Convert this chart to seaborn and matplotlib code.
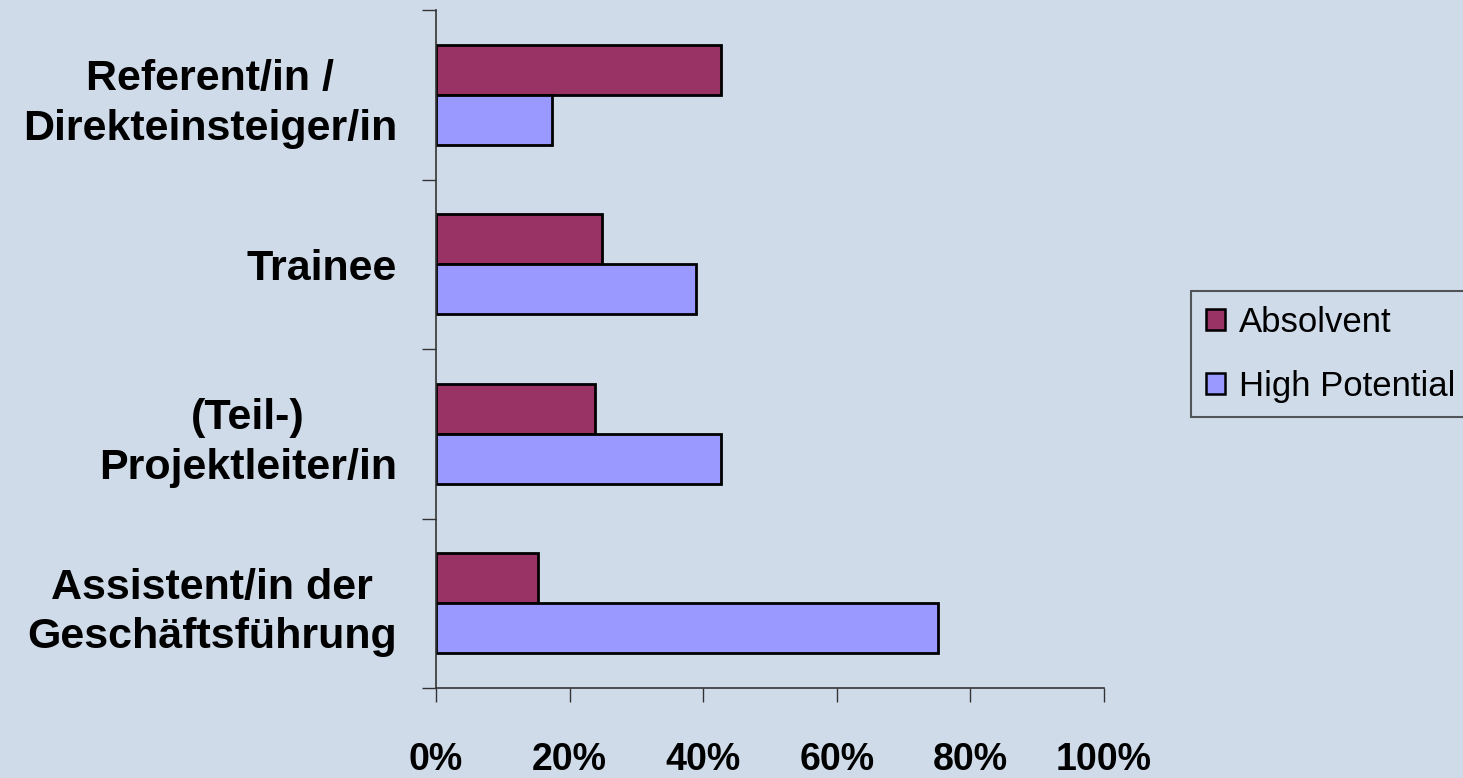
import matplotlib
matplotlib.use("Agg")
import matplotlib.pyplot as plt
import seaborn as sns
import pandas as pd

categories = ["Referent/in /\nDirekteinsteiger/in", "Trainee", "(Teil-)\nProjektleiter/in",
              "Assistent/in der\nGeschäftsführung"]
series = ["Absolvent", "High Potential"]
absolvent = [42.7, 24.9, 23.8, 15.3]
high_potential = [17.4, 38.9, 42.7, 75.1]
xtick_labels = ["0%", "20%", "40%", "60%", "80%", "100%"]

colors = ["#993366", "#9999FF"]
bg = "#D0DBEA"

df = pd.DataFrame({
    "cat": categories * 2,
    "series": [series[0]] * 4 + [series[1]] * 4,
    "val": absolvent + high_potential,
})

sns.set_theme(style="white")
plt.rcParams["font.family"] = ["Liberation Sans", "DejaVu Sans"]
plt.rcParams["text.color"] = "black"
plt.rcParams["xtick.color"] = "black"
plt.rcParams["ytick.color"] = "black"

fig = plt.figure(figsize=(14.63, 7.78), dpi=100, facecolor=bg)
ax = fig.add_axes([436 / 1463, 1 - 688 / 778, (1104 - 436) / 1463, (688 - 10) / 778])
ax.set_facecolor(bg)

sns.barplot(data=df, x="val", y="cat", hue="series", palette=colors, orient="h",
            width=0.59, edgecolor="black", linewidth=2, ax=ax, order=categories,
            hue_order=series, saturation=1)

ax.set_xlim(0, 100)
ax.set_ylim(3.5, -0.5)
ax.set_xlabel("")
ax.set_ylabel("")

for s in ["top", "right"]:
    ax.spines[s].set_visible(False)
for s in ["left", "bottom"]:
    ax.spines[s].set_color("#333333")
    ax.spines[s].set_linewidth(1.2)

ax.set_xticks([0, 20, 40, 60, 80, 100])
ax.set_xticklabels(xtick_labels, fontsize=27, fontweight="bold", color="black")
ax.tick_params(axis="x", direction="out", length=10, width=1, color="#333333", pad=29, bottom=True)

ax.set_yticks(range(4))
ax.set_yticklabels(categories, fontsize=31, fontweight="bold", multialignment="center",
                   linespacing=1.3, color="black")
ax.tick_params(axis="y", which="major", length=0, pad=28)
ax.set_yticks([-0.5, 0.5, 1.5, 2.5, 3.5], minor=True)
ax.tick_params(axis="y", which="minor", direction="out", length=10, width=1,
               color="#333333", left=True)

ax.get_legend().remove()
handles = [plt.Rectangle((0, 0), 1, 1, facecolor=c, edgecolor="black", linewidth=1.8) for c in colors]
leg = fig.legend(handles, series, loc="upper left", bbox_to_anchor=(1191 / 1463, 1 - 291 / 778),
                 fontsize=25, frameon=True, fancybox=False, edgecolor="#333333",
                 facecolor=bg, handlelength=0.55, handleheight=0.55, handletextpad=0.4,
                 labelspacing=0.9, borderpad=0.42, borderaxespad=0)
leg.get_frame().set_linewidth(1.5)

fig.savefig("out.png", dpi=100, facecolor=bg)
